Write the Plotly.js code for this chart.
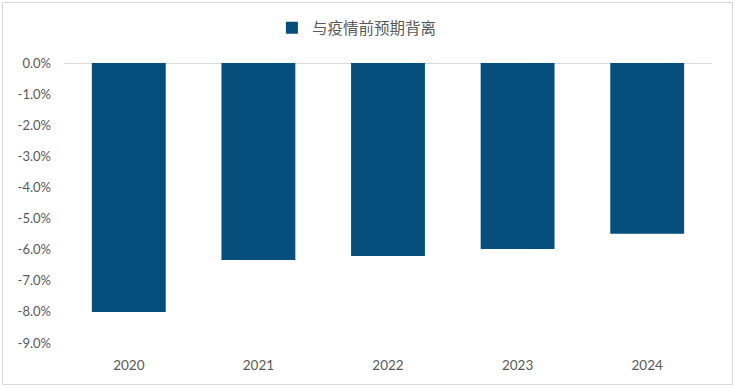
<!DOCTYPE html>
<html>
<head>
<meta charset="utf-8">
<script src="https://cdn.plot.ly/plotly-3.0.1.min.js"></script>
<style>
  html, body { margin: 0; padding: 0; background: #ffffff; }
  #wrap { position: relative; width: 735px; height: 388px; }
  #chart { width: 735px; height: 388px; }
  #frame { position: absolute; left: 2px; top: 2px; width: 729px; height: 381px; border: 1px solid #d9d9d9; pointer-events: none; }
</style>
</head>
<body>
<div id="wrap">
  <div id="chart"></div>
  <div id="frame"></div>
</div>
<script>
const categories = ["2020", "2021", "2022", "2023", "2024"];
const deviation = [-8.0, -6.33, -6.2, -5.98, -5.49];
const seriesName = "与疫情前预期背离";
const yTickValues = [0, -1, -2, -3, -4, -5, -6, -7, -8, -9];
const yTickLabels = ["0.0%", "-1.0%", "-2.0%", "-3.0%", "-4.0%", "-5.0%", "-6.0%", "-7.0%", "-8.0%", "-9.0%"];

const trace = {
  type: "bar",
  x: categories,
  y: deviation,
  name: seriesName,
  marker: { color: "#064f7c" },
  showlegend: true,
  hoverinfo: "x+y"
};

const layout = {
  width: 735,
  height: 388,
  margin: { l: 64, r: 23, t: 62, b: 45 },
  paper_bgcolor: "#ffffff",
  plot_bgcolor: "#ffffff",
  bargap: 0.43,
  font: { family: "Lato, 'Noto Sans CJK SC', sans-serif", color: "#595959", size: 13 },
  showlegend: true,
  legend: {
    orientation: "h",
    x: 0.452, xanchor: "center",
    y: 1.06, yanchor: "bottom",
    yref: "paper",
    font: { family: "'Noto Sans CJK SC', sans-serif", size: 15.5, color: "#595959" },
    itemwidth: 30
  },
  xaxis: {
    type: "category",
    showgrid: false,
    showline: false,
    zeroline: false,
    ticks: "",
    tickfont: { size: 13.5, color: "#595959" },
    ticklabelstandoff: 12
  },
  yaxis: {
    range: [-9, 0],
    tickvals: yTickValues,
    ticktext: yTickLabels,
    showgrid: false,
    zeroline: true,
    zerolinecolor: "#d9d9d9",
    zerolinewidth: 1,
    showline: false,
    ticks: "",
    tickfont: { size: 13, color: "#595959" },
    ticklabelstandoff: 12
  }
};

Plotly.newPlot("chart", [trace], layout, { displayModeBar: false, staticPlot: true });
</script>
</body>
</html>
